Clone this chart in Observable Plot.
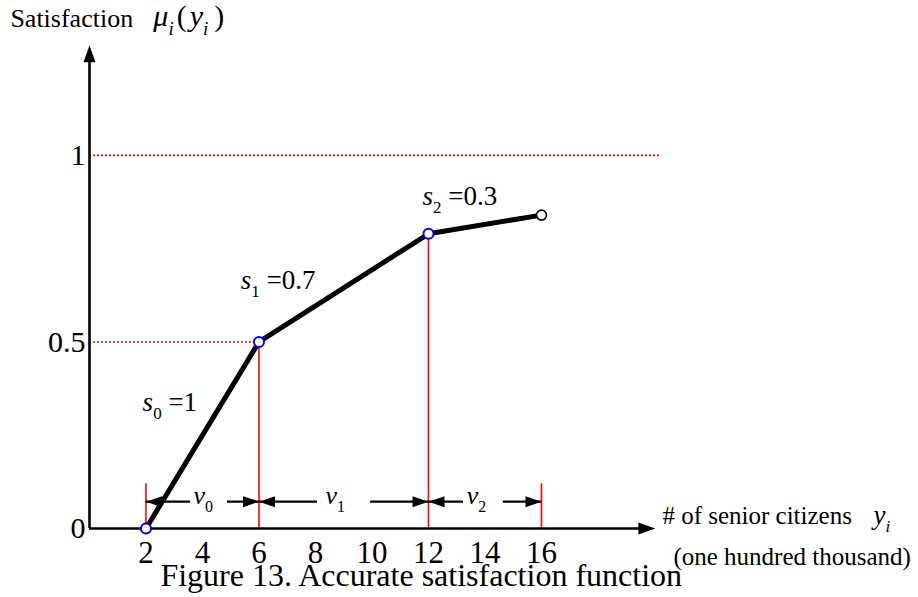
<!DOCTYPE html>
<html><head><meta charset="utf-8">
<script src="https://cdn.jsdelivr.net/npm/d3@7"></script>
<script src="https://cdn.jsdelivr.net/npm/@observablehq/plot@0.6"></script>
<style>body{margin:0;background:#fff;} svg{display:block}</style>
</head><body><div id="chart"></div>
<script>
// ---- data ----
const breakX = [2, 6, 12, 16];
const breakY = [0, 0.5, 0.79, 0.84];
const extensionTop = 0.12;            // height of the red extension lines at 2 and 16
const dimY = 0.072;                   // level of the v0/v1/v2 dimension arrows
const dimLeftEnd = [3.58, 8.07, 13.24];
const dimRightStart = [4.88, 9.95, 14.65];
const slopeLabels = ["{i:s}{sub:0} =1", "{i:s}{sub:1} =0.7", "{i:s}{sub:2} =0.3"];
const intervalLabels = ["{i:v}{sub:0}", "{i:v}{sub:1}", "{i:v}{sub:2}"];
const xTicks = [2, 4, 6, 8, 10, 12, 14, 16];
const yTicks = [0, 0.5, 1];
const yTickLabels = ["0", "0.5", "1"];
const yAxisTitle = "Satisfaction";
const yAxisSymbol = "{i:μ}{isub:i}{sp:3}({sp:3}{i:y}{isub:i}{sp:6})";
const xAxisTitle = "# of senior citizens";
const xAxisSymbol = "{i:y}{isub:i}";
const xAxisUnit = "(one hundred thousand)";
const caption = "Figure 13. Accurate satisfaction function";

// ---- derived tables ----
const pts = breakX.map((x, i) => ({x, y: breakY[i]}));
const verticals = breakX.map((x, i) => ({x, y2: (i === 0 || i === breakX.length - 1) ? extensionTop : breakY[i]}));
const intervals = breakX.slice(0, -1).map((a, i) => ({a, b: breakX[i + 1], i}));
const dimSegs = intervals.flatMap(d => [
  {x1: d.a, x2: dimLeftEnd[d.i]},
  {x1: dimRightStart[d.i], x2: d.b}
]);
const dimHeads = intervals.flatMap(d => [
  {x: d.a, rotate: 180},
  {x: d.b, rotate: 0}
]);

const head = (L, h) => ({draw(ctx) { ctx.moveTo(0, 0); ctx.lineTo(-L, -h); ctx.lineTo(-L, h); ctx.closePath(); }});
const axisHead = head(17, 6);
const dimHead = head(16, 5.5);

const slopePos = [{x: 1.88, y: 0.316}, {x: 5.35, y: 0.643}, {x: 11.79, y: 0.866}];
const vPos = [3.68, 8.35, 13.35];

const plot = Plot.plot({
  width: 918,
  height: 597,
  marginLeft: 89,
  marginRight: 264,
  marginTop: 43,
  marginBottom: 69,
  x: {domain: [0, 20], axis: null},
  y: {domain: [0, 1.3], axis: null},
  style: {fontFamily: "'Liberation Serif', 'Times New Roman', serif", color: "black", background: "white"},
  marks: [
    // dotted red reference lines
    Plot.ruleY([{y: 1, x2: 20.2}, {y: 0.5, x2: 6}], {y: "y", x1: 0, x2: "x2", stroke: "red", strokeWidth: 1.6, strokeDasharray: "2,2"}),
    // red vertical lines
    Plot.ruleX(verticals, {x: "x", y1: 0, y2: "y2", stroke: "red", strokeWidth: 1.6}),
    // axes
    Plot.ruleY([0], {x1: 0, x2: 19.9, stroke: "black", strokeWidth: 2.6}),
    Plot.ruleX([0], {y1: 0, y2: 1.27, stroke: "black", strokeWidth: 2.6}),
    Plot.dot([{x: 20.03, y: 0, r: 0}, {x: 0, y: 1.295, r: -90}], {x: "x", y: "y", rotate: "r", symbol: axisHead, fill: "black", stroke: "none"}),
    // dimension arrows
    Plot.ruleY(dimSegs, {x1: "x1", x2: "x2", y: dimY, stroke: "black", strokeWidth: 2.4}),
    Plot.dot(dimHeads, {x: "x", y: dimY, rotate: "rotate", symbol: dimHead, fill: "black", stroke: "none"}),
    // curve
    Plot.line(pts, {x: "x", y: "y", stroke: "black", strokeWidth: 5, strokeLinejoin: "round"}),
    Plot.dot(pts.slice(0, 3), {x: "x", y: "y", r: 5, fill: "white", stroke: "#0000ff", strokeWidth: 2}),
    Plot.dot(pts.slice(3), {x: "x", y: "y", r: 5, fill: "white", stroke: "black", strokeWidth: 1.6}),
    // tick labels
    Plot.text(xTicks, {x: d => d, y: 0, text: d => String(d), dy: 34, lineAnchor: "bottom", fontSize: 31, fill: "black"}),
    Plot.text(yTicks, {x: 0, y: d => d, text: (d, i) => yTickLabels[i], dx: -4, textAnchor: "end", lineAnchor: "middle", fontSize: 30, fill: "black"}),
    // slope and interval labels
    Plot.text(slopeLabels, {x: (d, i) => slopePos[i].x, y: (d, i) => slopePos[i].y, text: d => d, textAnchor: "start", lineAnchor: "bottom", fontSize: 27, fill: "black"}),
    Plot.text(intervalLabels, {x: (d, i) => vPos[i], y: 0.067, text: d => d, textAnchor: "start", lineAnchor: "bottom", fontSize: 26, fill: "black"}),
    // axis titles
    Plot.text([yAxisTitle], {x: -2.8, y: 1.343, text: d => d, textAnchor: "start", lineAnchor: "bottom", fontSize: 26, fill: "black"}),
    Plot.text([yAxisSymbol], {x: 2.26, y: 1.348, text: d => d, textAnchor: "start", lineAnchor: "bottom", fontSize: 30, fill: "black"}),
    Plot.text([xAxisTitle], {x: 20.28, y: 0.0134, text: d => d, textAnchor: "start", lineAnchor: "bottom", fontSize: 25, fill: "black"}),
    Plot.text([xAxisSymbol], {x: 27.75, y: 0.0134, text: d => d, textAnchor: "start", lineAnchor: "bottom", fontSize: 27, fill: "black"}),
    Plot.text([xAxisUnit], {x: 20.67, y: -0.099, text: d => d, textAnchor: "start", lineAnchor: "bottom", fontSize: 25, fill: "black"}),
    // caption
    Plot.text([caption], {x: 2.51, y: -0.153, text: d => d, textAnchor: "start", lineAnchor: "bottom", fontSize: 32, fill: "black"})
  ]
});

document.getElementById("chart").appendChild(plot);

// rich text: italic, subscript runs and small horizontal gaps
const re = /\{(i|sub|isub|sp):([^}]*)\}|([^{]+)/g;
const NS = "http://www.w3.org/2000/svg";
d3.select(plot).selectAll("text").each(function() {
  const s = this.textContent;
  if (!s.includes("{")) return;
  const fs = parseFloat(getComputedStyle(this).fontSize);
  const shift = Math.round(fs * 0.3);
  this.textContent = "";
  let cur = 0, pendingDx = 0;
  for (const m of s.matchAll(re)) {
    const kind = m[1] || "t";
    const txt = m[1] ? m[2] : m[3];
    if (kind === "sp") { pendingDx += +txt; continue; }
    const t = document.createElementNS(NS, "tspan");
    const isSub = kind === "sub" || kind === "isub";
    const target = isSub ? shift : 0;
    if (target !== cur) { t.setAttribute("dy", target - cur); cur = target; }
    if (pendingDx) { t.setAttribute("dx", pendingDx); pendingDx = 0; }
    if (isSub) t.setAttribute("font-size", Math.round(fs * 0.63));
    if (kind === "i" || kind === "isub") t.setAttribute("font-style", "italic");
    t.textContent = txt;
    this.appendChild(t);
  }
});
</script>
</body></html>
